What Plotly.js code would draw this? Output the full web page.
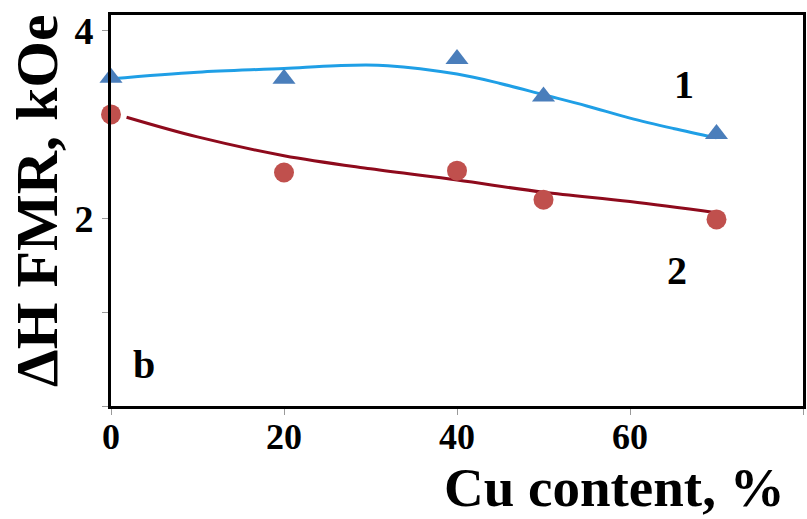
<!DOCTYPE html>
<html>
<head>
<meta charset="utf-8">
<script src="https://cdn.plot.ly/plotly-3.0.1.min.js"></script>
<style>
  html, body { margin: 0; padding: 0; background: #fff; }
  #chart { width: 807px; height: 519px; }
</style>
</head>
<body>
<div id="chart"></div>
<script>
// Measured points
const cuContent = [0, 20, 40, 50, 70];
const series1 = [3.50, 3.49, 3.70, 3.30, 2.90];   // triangles
const series2 = [3.11, 2.49, 2.51, 2.20, 1.99];   // circles

// Trend curves
const fit1X = [0, 10, 20, 26, 32, 40, 45, 50, 55, 60, 65, 70];
const fit1Y = [3.49, 3.56, 3.60, 3.63, 3.63, 3.54, 3.44, 3.32, 3.20, 3.07, 2.96, 2.86];
const fit2X = [1.8, 10, 20, 30, 40, 50, 60, 70];
const fit2Y = [3.08, 2.87, 2.67, 2.53, 2.41, 2.28, 2.18, 2.06];

// Tick labels
const xTickVals = [0, 20, 40, 60, 80];
const xTickText = ['0', '20', '40', '60', ''];
const yTickVals = [0, 1, 2, 4];
const yTickText = ['', '', '2', '4'];

const serif = 'Liberation Serif, Times New Roman, serif';

const traces = [
  {
    x: fit1X, y: fit1Y, mode: 'lines', type: 'scatter',
    line: {color: '#1f9fe6', width: 3, shape: 'spline'},
    hoverinfo: 'skip', showlegend: false
  },
  {
    x: fit2X, y: fit2Y, mode: 'lines', type: 'scatter',
    line: {color: '#8e0a1c', width: 3, shape: 'spline'},
    hoverinfo: 'skip', showlegend: false
  },
  {
    x: cuContent, y: series1, mode: 'markers', type: 'scatter', name: '1',
    marker: {symbol: 'triangle-up', size: 20, color: '#4a7ebb'},
    cliponaxis: false, showlegend: false
  },
  {
    x: cuContent, y: series2, mode: 'markers', type: 'scatter', name: '2',
    marker: {symbol: 'circle', size: 20, color: '#c0504d'},
    cliponaxis: false, showlegend: false
  }
];

const layout = {
  width: 807, height: 519,
  margin: {l: 111, r: 4, t: 15, b: 113},
  paper_bgcolor: '#ffffff', plot_bgcolor: '#ffffff',
  showlegend: false,
  font: {family: serif, color: '#000', size: 36},
  xaxis: {
    range: [0, 80], tickvals: xTickVals, ticktext: xTickText,
    ticks: 'outside', ticklen: 6, tickwidth: 1, tickcolor: '#9a9a9a',
    showline: true, linecolor: '#000', linewidth: 3, mirror: true,
    showgrid: false, zeroline: false,
    tickfont: {family: serif, size: 36, color: '#000', weight: 'bold'},
    ticklabelstandoff: -9
  },
  yaxis: {
    range: [0, 4.17], tickvals: yTickVals, ticktext: yTickText,
    ticks: 'outside', ticklen: 6, tickwidth: 1, tickcolor: '#9a9a9a',
    showline: true, linecolor: '#000', linewidth: 3, mirror: true,
    showgrid: false, zeroline: false,
    tickfont: {family: serif, size: 38, color: '#000', weight: 'bold'},
    ticklabelstandoff: 1
  },
  annotations: [
    {text: '<b>Cu content, %</b>', xref: 'paper', yref: 'paper', x: 0.728, y: -0.289,
     xanchor: 'center', yanchor: 'bottom', showarrow: false, borderpad: 0,
     font: {family: serif, size: 55, color: '#000'}},
    {text: '<b>ΔH FMR, kOe</b>', xref: 'paper', yref: 'paper', x: -0.107, y: 0.527,
     xanchor: 'center', yanchor: 'middle', showarrow: false, textangle: -90,
     font: {family: serif, size: 60, color: '#000'}},
    {text: '<b>1</b>', xref: 'x', yref: 'y', x: 66.2, y: 3.43, showarrow: false,
     font: {family: serif, size: 40, color: '#000'}},
    {text: '<b>2</b>', xref: 'x', yref: 'y', x: 65.4, y: 1.45, showarrow: false,
     font: {family: serif, size: 40, color: '#000'}},
    {text: '<b>b</b>', xref: 'x', yref: 'y', x: 3.8, y: 0.44, showarrow: false,
     font: {family: serif, size: 40, color: '#000'}}
  ]
};

Plotly.newPlot('chart', traces, layout, {displayModeBar: false, staticPlot: true});
</script>
</body>
</html>
